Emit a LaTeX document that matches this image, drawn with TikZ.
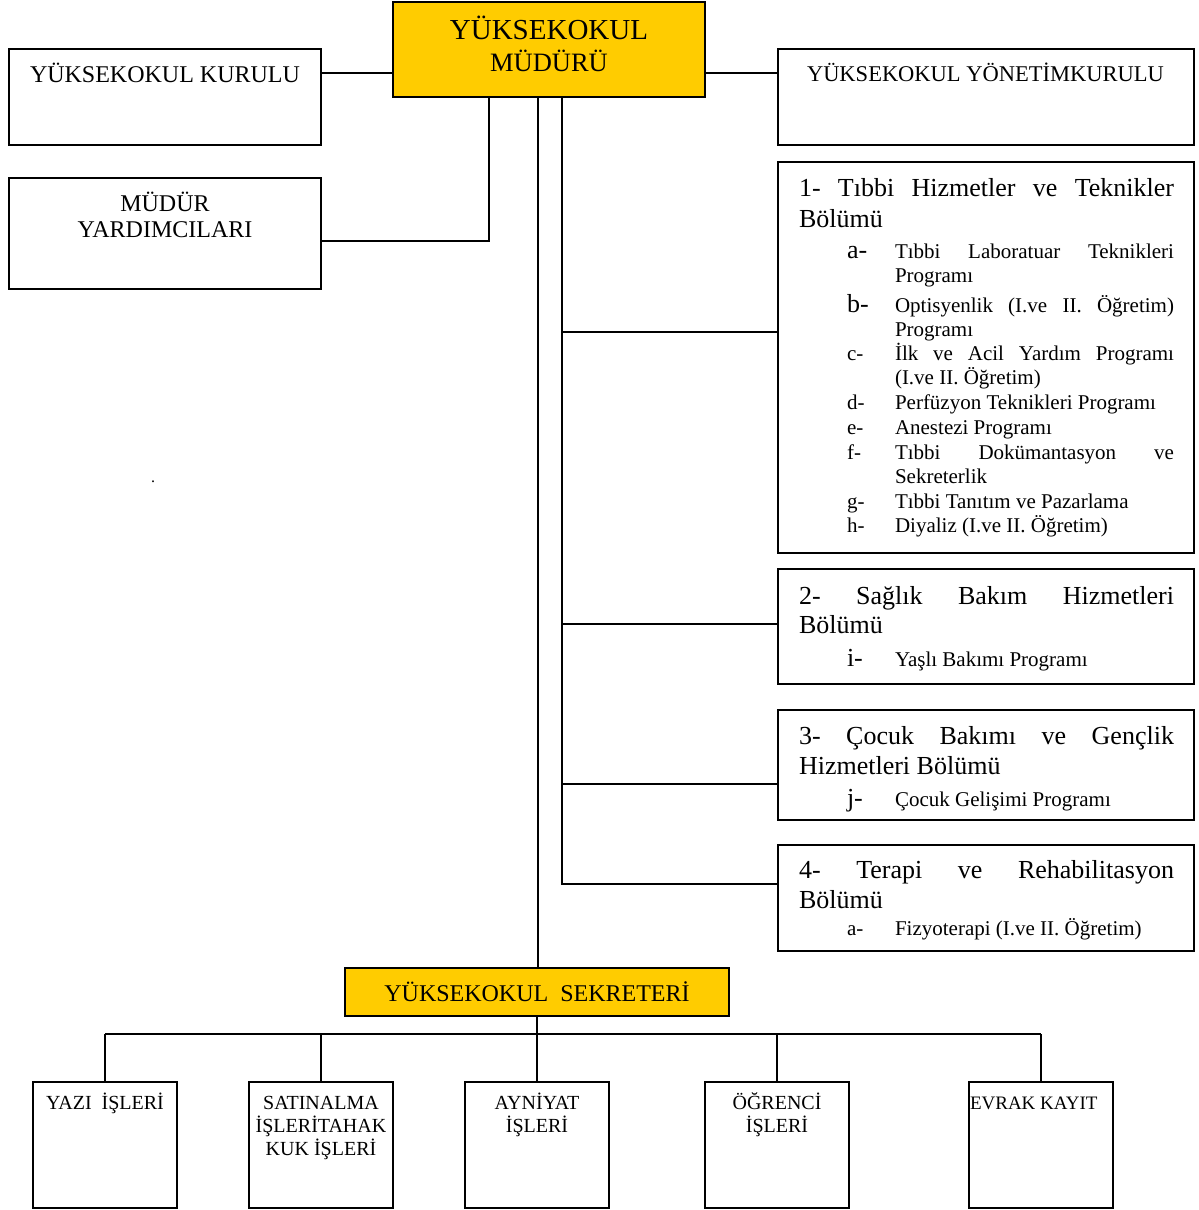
\documentclass[tikz,border=0pt]{standalone}
\usepackage{fontspec}
\setmainfont{Liberation Serif}
\definecolor{myyellow}{RGB}{255,204,0}
\newcommand{\fsz}[1]{\fontsize{#1pt}{#1pt}\selectfont}
\begin{document}
\begin{tikzpicture}[x=1pt,y=-1pt,
  box/.style={draw=black,line width=1.6pt,anchor=north west,inner sep=0,outer sep=0},
  ybox/.style={box,fill=myyellow},
  tl/.style={inner sep=0,outer sep=0,anchor=base west},
  tc/.style={inner sep=0,outer sep=0,anchor=base},
  conn/.style={line width=1.6pt},
  mainconn/.style={line width=2.6pt},
  hd/.style={tl,font=\fsz{26}},
  it/.style={tl,font=\fsz{21}},
  lbig/.style={tl,font=\fsz{26}},
  lsm/.style={tl,font=\fsz{21}},
  low/.style={tc,font=\fsz{20}}]
\useasboundingbox (0,0) rectangle (1199,1210);
% ---------- boxes ----------
\node[ybox,minimum width=312pt,minimum height=95pt] (mudur) at (393,2) {};
\node[box,minimum width=312pt,minimum height=96pt] (kurulu) at (9,49) {};
\node[box,minimum width=312pt,minimum height=111pt] (yard) at (9,178) {};
\node[box,minimum width=416pt,minimum height=96pt] (yonetim) at (778,49) {};
\node[box,minimum width=416pt,minimum height=391pt] (b1) at (778,162) {};
\node[box,minimum width=416pt,minimum height=115pt] (b2) at (778,569) {};
\node[box,minimum width=416pt,minimum height=110pt] (b3) at (778,710) {};
\node[box,minimum width=416pt,minimum height=106pt] (b4) at (778,845) {};
\node[ybox,minimum width=384pt,minimum height=48pt] (sek) at (345,968) {};
\node[box,minimum width=144pt,minimum height=126pt] (yazi) at (33,1082) {};
\node[box,minimum width=144pt,minimum height=126pt] (satin) at (249,1082) {};
\node[box,minimum width=144pt,minimum height=126pt] (ayni) at (465,1082) {};
\node[box,minimum width=144pt,minimum height=126pt] (ogr) at (705,1082) {};
\node[box,minimum width=144pt,minimum height=126pt] (evrak) at (969,1082) {};
% ---------- connectors ----------
\draw[conn] (kurulu.east |- 0,73) -- (mudur.west |- 0,73);
\draw[conn] (mudur.east |- 0,73) -- (yonetim.west |- 0,73);
\draw[conn] (mudur.south -| 489,0) |- (yard.east |- 0,241);
\draw[mainconn] (mudur.south -| 538,0) -- (sek.north -| 538,0);
\draw[mainconn] (mudur.south -| 562,0) |- (b4.west |- 0,884);
\coordinate (j1) at (562,332);
\coordinate (j2) at (562,624);
\coordinate (j3) at (562,784);
\draw[conn] (j1) -- (b1.west |- j1);
\draw[conn] (j2) -- (b2.west |- j2);
\draw[conn] (j3) -- (b3.west |- j3);
\coordinate (busL) at (105,1034);
\coordinate (busR) at (1041,1034);
\draw[conn] (sek.south -| 537,0) -- (537,1034);
\draw[conn] (busL) -- (busR);
\draw[conn] (yazi.north -| busL) -- (busL);
\draw[conn] (satin.north -| 321,0) -- (321,1034);
\draw[conn] (ayni.north -| 537,0) -- (537,1034);
\draw[conn] (ogr.north -| 777,0) -- (777,1034);
\draw[conn] (evrak.north -| busR) -- (busR);
% ---------- texts ----------
\node[tc,font=\fsz{29}] (t1) at (549,39) {YÜKSEKOKUL};
\node[tc,font=\fsz{26.5}] (t2) at (549,71) {MÜDÜRÜ};
\node[tc,font=\fsz{24}] (t3) at (165,82) {YÜKSEKOKUL KURULU};
\node[tc,font=\fsz{24}] (t4) at (165,211) {MÜDÜR};
\node[tc,font=\fsz{24}] (t5) at (165,237) {YARDIMCILARI};
\node[tl,font=\fsz{22.5}] (t6) at (807,81) {YÜKSEKOKUL YÖNETİMKURULU};
\node[tc,font=\fsz{16}] (dot) at (153,482) {.};
% box 1
\node[hd] (h1a) at (799,196) {\makebox[375pt][s]{1- Tıbbi Hizmetler ve Teknikler}};
\node[hd] (h1b) at (799,227) {Bölümü};
\node[lbig] (la) at (847,258) {a-};
\node[it] (ia1) at (895,258) {\makebox[279pt][s]{Tıbbi Laboratuar Teknikleri}};
\node[it] (ia2) at (895,282) {Programı};
\node[lbig] (lb) at (847,312) {b-};
\node[it] (ib1) at (895,312) {\makebox[279pt][s]{Optisyenlik (I.ve II. Öğretim)}};
\node[it] (ib2) at (895,336) {Programı};
\node[lsm] (lc) at (847,360) {c-};
\node[it] (ic1) at (895,360) {\makebox[279pt][s]{İlk ve Acil Yardım Programı}};
\node[it] (ic2) at (895,384) {(I.ve II. Öğretim)};
\node[lsm] (ld) at (847,409) {d-};
\node[it] (id) at (895,409) {Perfüzyon Teknikleri Programı};
\node[lsm] (le) at (847,434) {e-};
\node[it] (ie) at (895,434) {Anestezi Programı};
\node[lsm] (lf) at (847,459) {f-};
\node[it] (if1) at (895,459) {\makebox[279pt][s]{Tıbbi Dokümantasyon ve}};
\node[it] (if2) at (895,483) {Sekreterlik};
\node[lsm] (lg) at (847,508) {g-};
\node[it] (ig) at (895,508) {Tıbbi Tanıtım ve Pazarlama};
\node[lsm] (lh) at (847,532) {h-};
\node[it] (ih) at (895,532) {Diyaliz (I.ve II. Öğretim)};
% box 2
\node[hd] (h2a) at (799,604) {\makebox[375pt][s]{2- Sağlık Bakım Hizmetleri}};
\node[hd] (h2b) at (799,633) {Bölümü};
\node[lbig] (li) at (847,666) {i-};
\node[it] (ii) at (895,666) {Yaşlı Bakımı Programı};
% box 3
\node[hd] (h3a) at (799,744) {\makebox[375pt][s]{3- Çocuk Bakımı ve Gençlik}};
\node[hd] (h3b) at (799,774) {Hizmetleri Bölümü};
\node[lbig] (lj) at (847,806) {j-};
\node[it] (ij) at (895,806) {Çocuk Gelişimi Programı};
% box 4
\node[hd] (h4a) at (799,878) {\makebox[375pt][s]{4- Terapi ve Rehabilitasyon}};
\node[hd] (h4b) at (799,908) {Bölümü};
\node[lsm] (lk) at (847,935) {a-};
\node[it] (ik) at (895,935) {Fizyoterapi (I.ve II. Öğretim)};
% secretary
\node[tc,font=\fsz{24}] (ts) at (537,1001) {YÜKSEKOKUL\hspace{0.5em}SEKRETERİ};
% bottom
\node[low] (y1) at (105,1109) {YAZI\hspace{0.5em}İŞLERİ};
\node[low] (s1) at (321,1109) {SATINALMA};
\node[low] (s2) at (321,1132) {İŞLERİTAHAK};
\node[low] (s3) at (321,1155) {KUK İŞLERİ};
\node[low] (a1) at (537,1109) {AYNİYAT};
\node[low] (a2) at (537,1132) {İŞLERİ};
\node[low] (o1) at (777,1109) {ÖĞRENCİ};
\node[low] (o2) at (777,1132) {İŞLERİ};
\node[tl,font=\fsz{19}] (e1) at (970,1109) {EVRAK KAYIT};
\end{tikzpicture}
\end{document}
